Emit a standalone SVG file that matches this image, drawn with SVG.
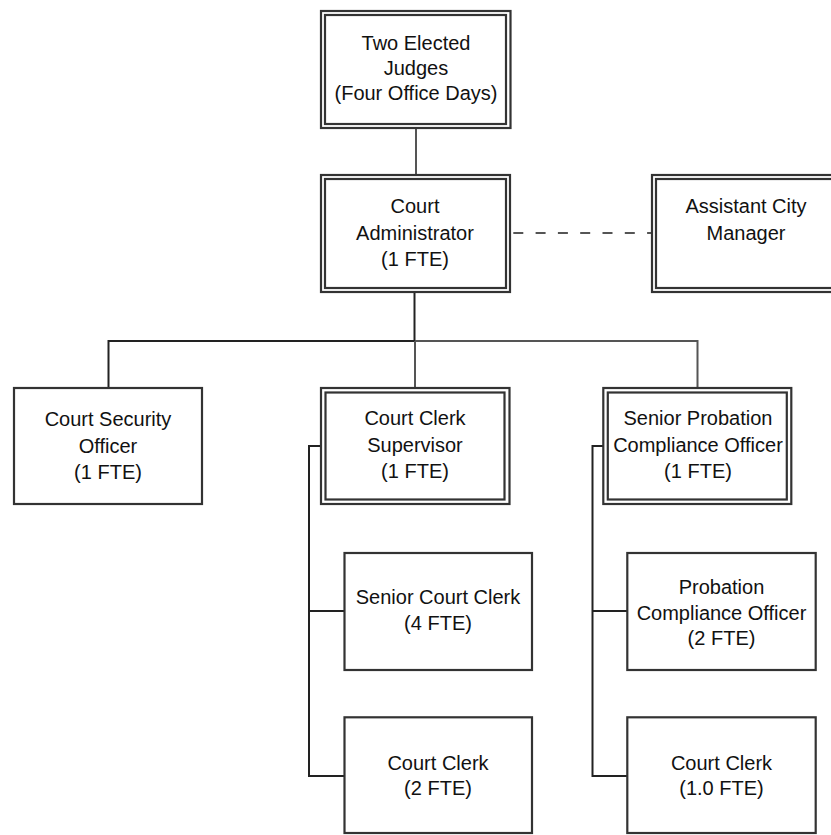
<svg xmlns="http://www.w3.org/2000/svg" width="831" height="835" viewBox="0 0 831 835">
<style>
  .bx{fill:#fff;stroke:#333;stroke-width:2.2}
  .in{fill:none;stroke:#333;stroke-width:2.2}
  .t{font-family:"Liberation Sans",Arial,sans-serif;font-size:20px;fill:#111;text-anchor:middle}
  .ln{fill:none;stroke:#222;stroke-width:2}
  .lg{fill:none;stroke:#555;stroke-width:2}
</style>
<rect width="831" height="835" fill="#fff"/>
<g id="connectors">
  <line class="lg" x1="416" y1="128" x2="416" y2="175"/>
  <line class="lg" x1="511" y1="233" x2="652" y2="233" stroke-dasharray="10 12.3" stroke-dashoffset="20"/>
  <line class="ln" x1="414.5" y1="292" x2="414.5" y2="341"/>
  <polyline class="ln" points="108.5,388 108.5,341 415,341"/>
  <polyline class="lg" points="415,341 697.5,341 697.5,388"/>
  <line class="lg" x1="415" y1="341" x2="415" y2="388"/>
  <polyline class="ln" points="321,446 309,446 309,776 344.5,776"/>
  <line class="ln" x1="309" y1="611" x2="344.5" y2="611"/>
  <polyline class="ln" points="603,446 592.5,446 592.5,776 627.5,776"/>
  <line class="ln" x1="592.5" y1="611" x2="627.5" y2="611"/>
</g>
<g id="judges">
  <rect class="bx" x="321" y="11" width="189.5" height="117"/>
  <rect class="in" x="325" y="15" width="181" height="109"/>
  <text class="t" x="416" y="50">Two Elected</text>
  <text class="t" x="416" y="75">Judges</text>
  <text class="t" x="416" y="100">(Four Office Days)</text>
</g>
<g id="administrator">
  <rect class="bx" x="321" y="175" width="189" height="117"/>
  <rect class="in" x="325" y="179" width="181" height="109"/>
  <text class="t" x="415" y="213">Court</text>
  <text class="t" x="415" y="240">Administrator</text>
  <text class="t" x="415" y="266">(1 FTE)</text>
</g>
<g id="assistant">
  <rect class="bx" x="652" y="175" width="190" height="117"/>
  <rect class="in" x="656" y="179" width="182" height="109"/>
  <text class="t" x="746" y="213">Assistant City</text>
  <text class="t" x="746" y="240">Manager</text>
</g>
<g id="security">
  <rect class="bx" x="14" y="388" width="188" height="116"/>
  <text class="t" x="108" y="426">Court Security</text>
  <text class="t" x="108" y="453">Officer</text>
  <text class="t" x="108" y="479">(1 FTE)</text>
</g>
<g id="supervisor">
  <rect class="bx" x="321" y="388" width="188.5" height="116"/>
  <rect class="in" x="325.5" y="392.5" width="179" height="107"/>
  <text class="t" x="415" y="425">Court Clerk</text>
  <text class="t" x="415" y="452">Supervisor</text>
  <text class="t" x="415" y="478">(1 FTE)</text>
</g>
<g id="senior-probation">
  <rect class="bx" x="603.3" y="388" width="188" height="116"/>
  <rect class="in" x="607.8" y="392.5" width="179" height="107"/>
  <text class="t" x="698" y="425">Senior Probation</text>
  <text class="t" x="698" y="452">Compliance Officer</text>
  <text class="t" x="698" y="478">(1 FTE)</text>
</g>
<g id="senior-court-clerk">
  <rect class="bx" x="344.5" y="553" width="187.5" height="117"/>
  <text class="t" x="438" y="604">Senior Court Clerk</text>
  <text class="t" x="438" y="630">(4 FTE)</text>
</g>
<g id="court-clerk-2">
  <rect class="bx" x="344.5" y="717.3" width="187.5" height="115.7"/>
  <text class="t" x="438" y="770">Court Clerk</text>
  <text class="t" x="438" y="795">(2 FTE)</text>
</g>
<g id="probation-officer">
  <rect class="bx" x="627.3" y="553" width="188.4" height="117"/>
  <text class="t" x="721.5" y="594">Probation</text>
  <text class="t" x="721.5" y="620">Compliance Officer</text>
  <text class="t" x="721.5" y="645">(2 FTE)</text>
</g>
<g id="court-clerk-1">
  <rect class="bx" x="627.3" y="717.3" width="188.4" height="115.7"/>
  <text class="t" x="721.5" y="770">Court Clerk</text>
  <text class="t" x="721.5" y="795">(1.0 FTE)</text>
</g>
</svg>
